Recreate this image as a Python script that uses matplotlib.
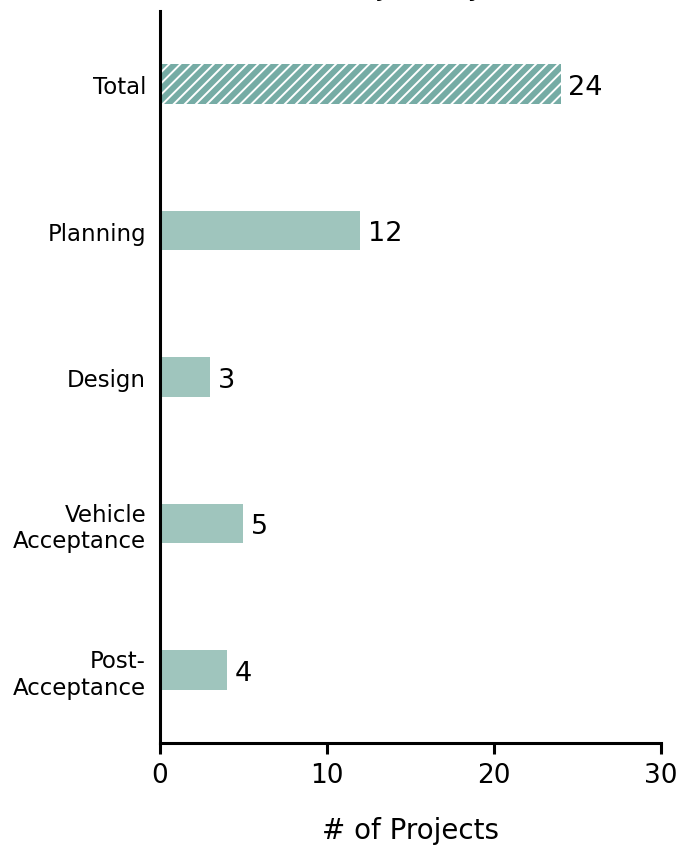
import matplotlib
matplotlib.use("Agg")
import matplotlib.pyplot as plt

# data
phases = ["Total", "Planning", "Design", "Vehicle\nAcceptance", "Post-\nAcceptance"]
counts = [24, 12, 3, 5, 4]
x_ticks = [0, 10, 20, 30]

bar_color = "#9fc5bd"
total_color = "#76aca5"

plt.rcParams["font.family"] = ["DejaVu Sans"]
plt.rcParams["hatch.color"] = "white"
plt.rcParams["hatch.linewidth"] = 1.4

fig = plt.figure(figsize=(6.79, 8.53), dpi=100)
ax = fig.add_axes([0.2356, 0.1278, 0.7379, 0.8582])

ypos = list(range(len(phases)))
bars = ax.barh(ypos, counts, height=0.27, color=bar_color, linewidth=0)
bars[0].set_facecolor(total_color)
bars[0].set_hatch("///")

for y, v in zip(ypos, counts):
    ax.text(v + 0.45, y + 0.02, str(v), va="center", ha="left", fontsize=19.5)

ax.set_ylim(4.5, -0.5)
ax.set_xlim(0, 30)
ax.set_xticks(x_ticks)
ax.set_yticks(ypos)
ax.set_yticklabels(phases, fontsize=16.5, multialignment="right", linespacing=1.2)
ax.tick_params(axis="y", length=0, pad=10)
ax.tick_params(axis="x", length=8, width=2.2, labelsize=19, pad=6)
ax.set_xlabel("# of Projects", fontsize=20, labelpad=20)

for s in ["top", "right"]:
    ax.spines[s].set_visible(False)
for s in ["left", "bottom"]:
    ax.spines[s].set_linewidth(2.2)

# title sits mostly above the visible area in the reference
fig.text(0.58, 1.006, "(as of January)", ha="center", va="baseline", fontsize=20)

fig.savefig("out.png", dpi=100)
